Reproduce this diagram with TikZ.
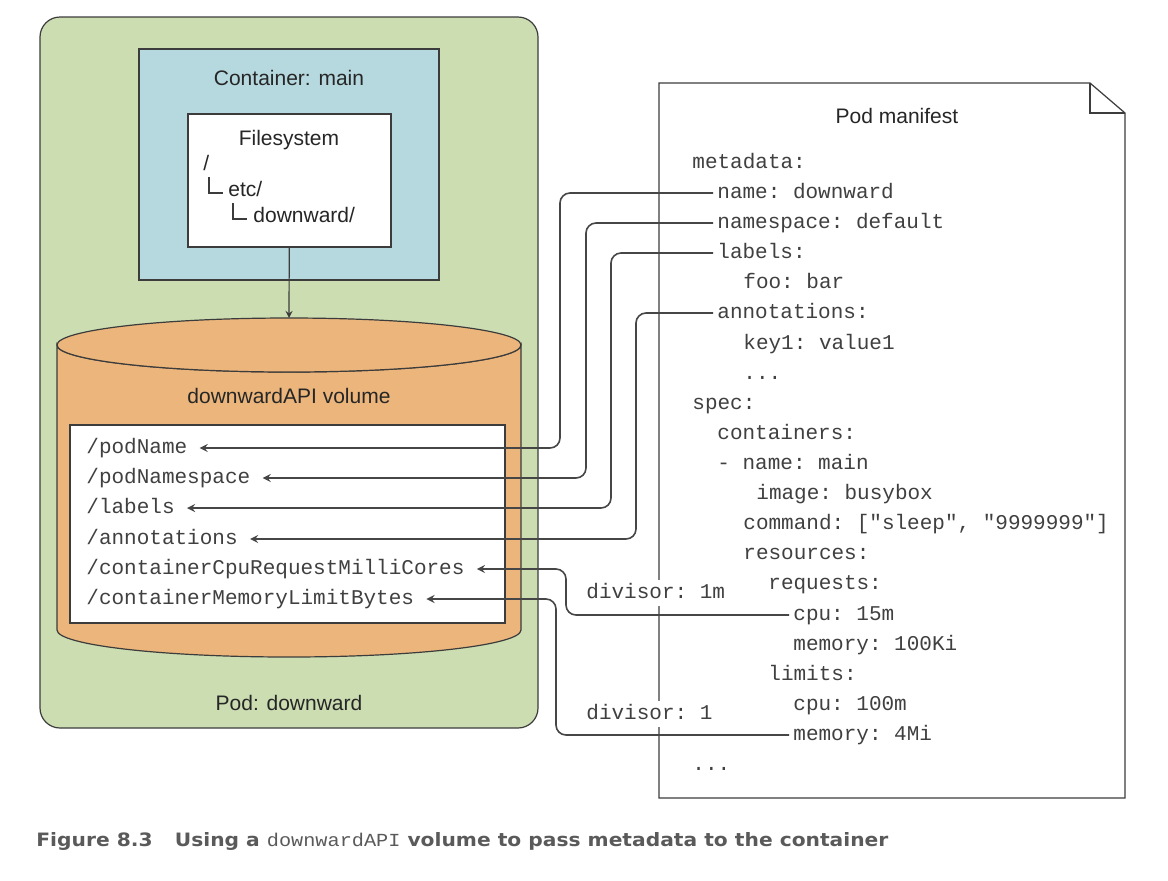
\documentclass[tikz,border=0pt]{standalone}
\usepackage{fontspec}
\usepackage{graphicx}
\setmainfont{Liberation Sans}
\setmonofont{Liberation Mono}
\newfontfamily\capfont{DejaVu Sans}
\usetikzlibrary{positioning}
\definecolor{podgreen}{RGB}{203,221,177}
\definecolor{ctblue}{RGB}{182,217,224}
\definecolor{volorange}{RGB}{235,181,123}
\definecolor{edge}{RGB}{60,60,60}
\definecolor{wirec}{RGB}{70,70,70}
\definecolor{capgray}{RGB}{90,90,90}
\newcommand\diasans{\fontsize{10.5}{12}\selectfont}
\newcommand\diamono{\fontsize{10.5}{12}\selectfont\ttfamily}
\tikzset{
  box/.style={draw=edge,line width=0.6pt,inner sep=0pt},
  title/.style={font=\diasans,text=black!85,anchor=base,inner sep=0pt},
  yaml/.style={font=\diamono,text=black!75,anchor=base west,inner sep=2pt,text height=7pt,text depth=2pt},
  entry/.style={yaml,inner xsep=6pt},
  divisor/.style={yaml,fill=white},
  wire/.style={draw=wirec,line width=0.8pt,rounded corners=5pt,->},
}
\begin{document}
\begin{tikzpicture}[x=0.5pt,y=-0.5pt,>=stealth]
\useasboundingbox (0,0) rectangle (1168,880);
% pod and container
\node[box,fill=podgreen,rounded corners=10pt,minimum width=249pt,minimum height=355.5pt] (pod) at (289,372.5) {};
\node[box,fill=ctblue,minimum width=150pt,minimum height=115.5pt] (ctr) at (289,164.5) {};
\node[title] (ctrname) at (289,85) {Container: main};
\node[box,fill=white,minimum width=101.5pt,minimum height=66.5pt] (fs) at (289.5,180.5) {};
\node[title] (fsname) at (289,145) {Filesystem};
\node[title,anchor=base west] (root) at (203,170) {/};
\node[title,anchor=base west] (etc) at (228,196) {etc/};
\node[title,anchor=base west] (dwn) at (253,222) {downward/};
\draw[edge,line width=0.7pt] (209,177) |- (223,193);
\draw[edge,line width=0.7pt] (233,203) |- (247,219);
\node[title] (podname) at (289,710) {Pod: downward};
% downwardAPI volume
\draw[box,fill=volorange] (57,345) -- (57,630) arc[start angle=180,end angle=0,x radius=232,y radius=27]
  -- (521,345) arc[start angle=0,end angle=180,x radius=232,y radius=27] -- cycle;
\draw[box,fill=volorange] (289,345) ellipse[x radius=232,y radius=27];
\coordinate (voltop) at (289,318);
\draw[->,edge,line width=0.6pt] (fs) -- (voltop);
\node[title] (volname) at (289,403) {downwardAPI volume};
\node[box,fill=white,minimum width=217.5pt,minimum height=99pt] (files) at (287.5,524) {};
\node[entry] (podName) at (74,453) {/podName};
\node[entry] (podNs) at (74,483) {/podNamespace};
\node[entry] (labels) at (74,513) {/labels};
\node[entry] (annots) at (74,544) {/annotations};
\node[entry] (cpuReq) at (74,574) {/containerCpuRequestMilliCores};
\node[entry] (memLim) at (74,604) {/containerMemoryLimitBytes};
% manifest
\draw[box,fill=white] (659,83) -- (1090,83) -- (1125,113) -- (1125,798) -- (659,798) -- cycle;
\draw[box] (1090,83) -- (1090,113) -- (1125,113);
\node[title] (mtitle) at (897,123) {Pod manifest};
\node[yaml] (m0) at (688,168) {metadata:};
\node[yaml] (m1) at (713,198) {name: downward};
\node[yaml] (m2) at (713,228) {namespace: default};
\node[yaml] (m3) at (713,258) {labels:};
\node[yaml] (m4) at (739,288) {foo: bar};
\node[yaml] (m5) at (713,318) {annotations:};
\node[yaml] (m6) at (739,349) {key1: value1};
\node[yaml] (m7) at (739,379) {...};
\node[yaml] (m8) at (688,409) {spec:};
\node[yaml] (m9) at (713,439) {containers:};
\node[yaml] (m10) at (713,469) {- name: main};
\node[yaml] (m11) at (752,499) {image: busybox};
\node[yaml] (m12) at (739,529) {command: ["sleep", "9999999"]};
\node[yaml] (m13) at (739,559) {resources:};
\node[yaml] (m14) at (764,589) {requests:};
\node[yaml] (m15) at (789,620) {cpu: 15m};
\node[yaml] (m16) at (789,650) {memory: 100Ki};
\node[yaml] (m17) at (764,680) {limits:};
\node[yaml] (m18) at (789,710) {cpu: 100m};
\node[yaml] (m19) at (789,740) {memory: 4Mi};
\node[yaml] (m20) at (688,770) {...};
\node[divisor] (div1) at (582,598) {divisor: 1m};
\node[divisor] (div2) at (582,719) {divisor: 1};
% connectors
\draw[wire] (m1.west) -| (560,300) |- (podName.east);
\draw[wire] (m2.west) -| (586,300) |- (podNs.east);
\draw[wire] (m3.west) -| (611,300) |- (labels.east);
\draw[wire] (m5.west) -| (636,400) |- (annots.east);
\draw[wire] (m15.west) -| (566,590) |- (cpuReq.east);
\draw[wire] (m19.west) -| (556,650) |- (memLim.east);
% caption
\node[anchor=base west,inner sep=0pt,text=capgray] (caption) at (36,846)
  {\resizebox{426pt}{7pt}{\capfont\bfseries Figure 8.3\hspace{1.1em}Using a {\ttfamily\mdseries downwardAPI} volume to pass metadata to the container}};
\end{tikzpicture}
\end{document}
